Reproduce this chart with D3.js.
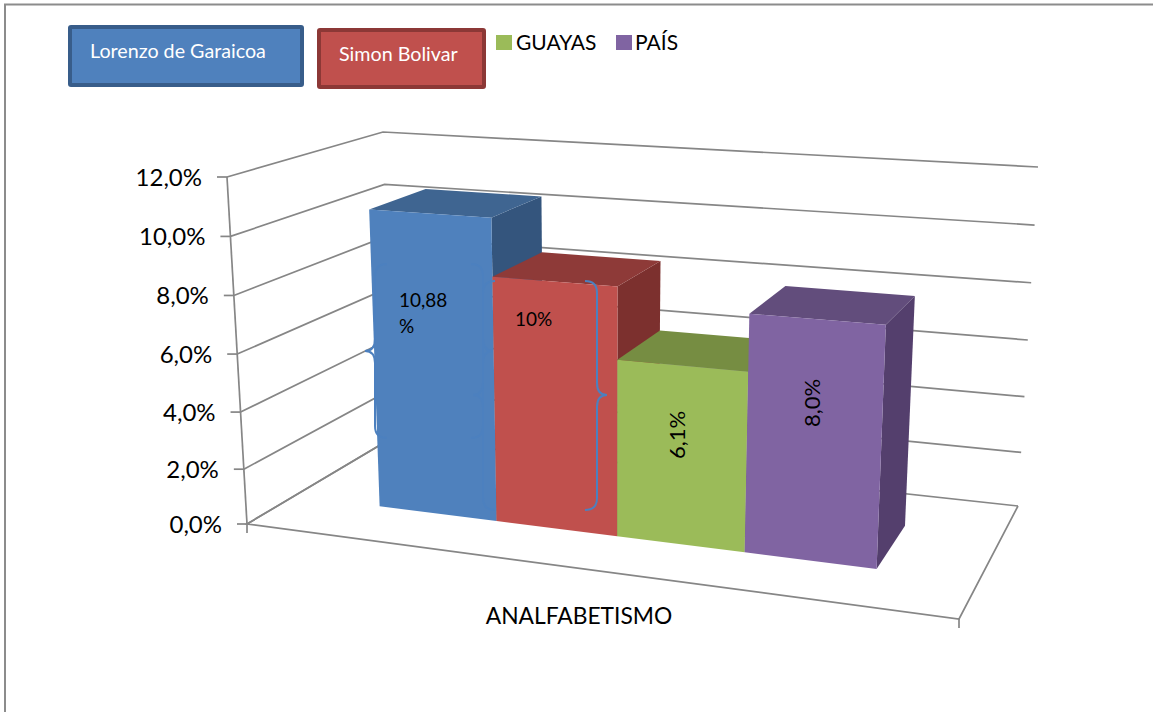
<!DOCTYPE html>
<html>
<head>
<meta charset="utf-8">
<script src="https://cdnjs.cloudflare.com/ajax/libs/d3/7.8.5/d3.min.js"></script>
<style>
  html, body { margin: 0; padding: 0; background: #fff; }
  text { font-family: Lato, "Open Sans", sans-serif; }
</style>
</head>
<body>
<div id="chart"></div>
<script>
// datos
var categories = ["Lorenzo de Garaicoa", "Simon Bolivar", "GUAYAS", "PAÍS"];
var barValues = [10.55, 8.55, 6.1, 8.0];          // altura dibujada de cada barra
var barLabels = [["10,88", "%"], ["10%"], ["6,1%"], ["8,0%"]];
var tickValues = [0, 2, 4, 6, 8, 10, 12];
var tickLabels = ["0,0%", "2,0%", "4,0%", "6,0%", "8,0%", "10,0%", "12,0%"];
var axisTitle = "ANALFABETISMO";

// colores: frente, arriba, lado
var frontColors = ["#4f81bd", "#c0504d", "#9bbb59", "#8064a2"];
var topColors = ["#3f6591", "#8e3a38", "#768d42", "#624d7c"];
var sideColors = ["#34557d", "#7c302e", "#637637", "#543f6d"];

var w = 1153, h = 712;
var svg = d3.select("#chart").append("svg").attr("width", w).attr("height", h);

// esquinas de la caja 3D en pantalla
var box = {
  fl0: [247, 524], fr0: [959, 619], bl0: [392, 438], br0: [1018, 506],
  fl1: [227, 177], fr1: [978, 223], bl1: [383, 132], br1: [1038, 167]
};

// escalas
var y = d3.scalePow().exponent(1.03).domain([0, 12]).range([0, 1]);
var x = d3.scaleLinear().domain([0, 1, 2, 3, 4]).range([0.124, 0.295, 0.4715, 0.658, 0.851]);
var depthFront = 0.33, depthBack = 0.725;

function mix(a, b, t) {
  return [a[0] + (b[0] - a[0]) * t, a[1] + (b[1] - a[1]) * t];
}
// u: ancho, v: valor, d: profundidad
function project(u, v, d) {
  var t = y(v);
  var front = mix(mix(box.fl0, box.fr0, u), mix(box.fl1, box.fr1, u), t);
  var back = mix(mix(box.bl0, box.br0, u), mix(box.bl1, box.br1, u), t);
  return mix(front, back, d);
}

var line = d3.line();
var axisColor = "#868686";

// marco
svg.append("path").attr("d", line([[5, h], [5, 4.5], [w, 4.5]]))
  .attr("fill", "none").attr("stroke", "#8c8c8c").attr("stroke-width", 2);

// rejilla: pared izquierda y fondo
var grid = svg.append("g").attr("fill", "none").attr("stroke", axisColor).attr("stroke-width", 1.7);
grid.selectAll("path.g").data(tickValues).enter().append("path")
  .attr("d", function (v) {
    return line([project(0, v, 0), project(0, v, 1), project(1, v, 1)]);
  });

// suelo y eje vertical
grid.append("path").attr("d", line([project(0, 0, 1), project(0, 0, 0), project(1, 0, 0), project(1, 0, 1)]));
grid.append("path").attr("d", line([project(0, 0, 0), project(0, 12, 0)]));
// marcas
grid.selectAll("path.t").data(tickValues).enter().append("path")
  .attr("d", function (v) {
    var p = project(0, v, 0);
    return line([p, [p[0] - 10, p[1]]]);
  });
grid.selectAll("path.c").data([0, 1]).enter().append("path")
  .attr("d", function (u) {
    var p = project(u, 0, 0);
    return line([p, [p[0], p[1] + 9]]);
  });

// etiquetas del eje
svg.selectAll("text.tick").data(tickValues).enter().append("text")
  .attr("class", "tick")
  .attr("x", function (v) { return project(0, v, 0)[0] - 25; })
  .attr("y", function (v) { return project(0, v, 0)[1] + 9; })
  .attr("text-anchor", "end").attr("font-size", 24).attr("fill", "#000")
  .text(function (v, i) { return tickLabels[i]; });

svg.append("text").attr("x", 579).attr("y", 624).attr("text-anchor", "middle")
  .attr("font-size", 22.8).text(axisTitle);

// barras
var bars = svg.selectAll("g.bar").data(barValues).enter().append("g").attr("class", "bar");
function face(i, v0, v1, kind) {
  var u0 = x(i), u1 = x(i + 1);
  if (kind === "front") return [project(u0, v0, depthFront), project(u1, v0, depthFront), project(u1, v1, depthFront), project(u0, v1, depthFront)];
  if (kind === "top") return [project(u0, v1, depthFront), project(u1, v1, depthFront), project(u1, v1, depthBack), project(u0, v1, depthBack)];
  return [project(u1, v0, depthFront), project(u1, v0, depthBack), project(u1, v1, depthBack), project(u1, v1, depthFront)];
}
bars.append("path").attr("fill", function (d, i) { return sideColors[i]; })
  .attr("d", function (d, i) { return line(face(i, 0, d, "side")) + "Z"; });
bars.append("path").attr("fill", function (d, i) { return topColors[i]; })
  .attr("d", function (d, i) { return line(face(i, 0, d, "top")) + "Z"; });
bars.append("path").attr("fill", function (d, i) { return frontColors[i]; })
  .attr("d", function (d, i) { return line(face(i, 0, d, "front")) + "Z"; });

// llaves dibujadas encima (x lomo, y arriba, y abajo, y punta, dir)
var braces = [
  [375, 264, 438, 351, -1],
  [483, 264, 438, 351, 1],
  [483, 281, 510, 395, -1],
  [597, 281, 510, 395, 1]
];
function bracePath(b) {
  var sx = b[0], y0 = b[1], y1 = b[2], ym = b[3], dir = b[4], r = 12, t = 10;
  return "M" + (sx - dir * r) + "," + y0 +
    "Q" + sx + "," + y0 + " " + sx + "," + (y0 + r) +
    "L" + sx + "," + (ym - r) +
    "Q" + sx + "," + ym + " " + (sx + dir * t) + "," + ym +
    "Q" + sx + "," + ym + " " + sx + "," + (ym + r) +
    "L" + sx + "," + (y1 - r) +
    "Q" + sx + "," + y1 + " " + (sx - dir * r) + "," + y1;
}
svg.selectAll("path.brace").data(braces).enter().append("path")
  .attr("class", "brace").attr("d", bracePath)
  .attr("fill", "none").attr("stroke", "#4c80bf").attr("stroke-width", 2);

// etiquetas de datos
svg.append("text").attr("font-size", 19).attr("x", 399).attr("y", 307).text(barLabels[0][0]);
svg.append("text").attr("font-size", 19).attr("x", 399).attr("y", 333).text(barLabels[0][1]);
svg.append("text").attr("font-size", 19).attr("x", 515).attr("y", 326).text(barLabels[1][0]);
svg.append("text").attr("font-size", 22).attr("text-anchor", "middle")
  .attr("transform", "translate(685,435) rotate(-90)").text(barLabels[2][0]);
svg.append("text").attr("font-size", 22).attr("text-anchor", "middle")
  .attr("transform", "translate(820,403) rotate(-90)").text(barLabels[3][0]);

// leyenda: dos cuadros de texto y dos entradas
var boxes = svg.selectAll("g.lbox").data([
  { i: 0, x: 70, y: 27, w: 232, h: 58, tx: 90, ty: 58 },
  { i: 1, x: 319, y: 30, w: 165, h: 57, tx: 339, ty: 61 }
]).enter().append("g").attr("class", "lbox");
boxes.append("rect")
  .attr("x", function (d) { return d.x; }).attr("y", function (d) { return d.y; })
  .attr("width", function (d) { return d.w; }).attr("height", function (d) { return d.h; })
  .attr("rx", 1)
  .attr("fill", function (d) { return frontColors[d.i]; })
  .attr("stroke", function (d) { return d.i === 0 ? "#385d8a" : "#8c3836"; })
  .attr("stroke-width", 4);
boxes.append("text")
  .attr("x", function (d) { return d.tx; }).attr("y", function (d) { return d.ty; })
  .attr("font-size", 19.7).attr("fill", "#fff")
  .text(function (d) { return categories[d.i]; });

var legend = svg.selectAll("g.leg").data([
  { i: 2, sx: 496, tx: 516 },
  { i: 3, sx: 616, tx: 635 }
]).enter().append("g").attr("class", "leg");
legend.append("rect")
  .attr("x", function (d) { return d.sx; }).attr("y", 35)
  .attr("width", 16).attr("height", 15)
  .attr("fill", function (d) { return frontColors[d.i]; });
legend.append("text")
  .attr("x", function (d) { return d.tx; }).attr("y", 50)
  .attr("font-size", 21).attr("fill", "#000")
  .text(function (d) { return categories[d.i]; });
</script>
</body>
</html>
